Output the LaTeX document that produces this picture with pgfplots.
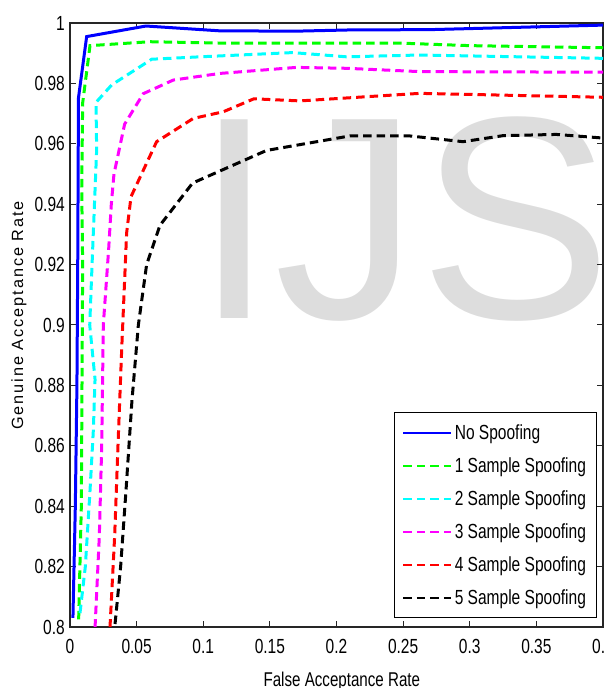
\documentclass[border=0pt]{standalone}
\usepackage{fontspec}
\setmainfont{Liberation Sans}[FakeStretch=0.76]
\newfontfamily\wmfont{Liberation Sans}
\newfontfamily\ylfont{Liberation Sans}[LetterSpace=12]
\usepackage{pgfplots}
\pgfplotsset{compat=1.18}
\definecolor{wm}{RGB}{221,221,221}
\definecolor{mblue}{RGB}{0,0,255}
\definecolor{mgreen}{RGB}{0,255,0}
\definecolor{mcyan}{RGB}{0,255,255}
\definecolor{mmag}{RGB}{255,0,255}
\definecolor{mred}{RGB}{255,0,0}

\begin{document}
\begin{tikzpicture}
\begin{axis}[
 set layers,
 scale only axis, width=533bp, height=604bp,
 xmin=0, xmax=0.4, ymin=0.8, ymax=1,
 xtick={0,0.05,0.1,0.15,0.2,0.25,0.3,0.35,0.4},
 xticklabels={0,0.05,0.1,0.15,0.2,0.25,0.3,0.35,0.4},
 ytick={0.8,0.82,0.84,0.86,0.88,0.9,0.92,0.94,0.96,0.98,1},
 yticklabels={0.8,0.82,0.84,0.86,0.88,0.9,0.92,0.94,0.96,0.98,1},
 tick align=inside, major tick length=6bp,
 axis line style={line width=1.2bp, black!85},
 every tick/.style={line width=1bp, black!85},
 ticklabel style={font=\fontsize{20.5}{24}\selectfont},
 xticklabel style={inner sep=0pt, anchor=north, yshift=-12bp},
 yticklabel style={inner sep=0pt, anchor=east, xshift=-5bp},
 xlabel={False Acceptance Rate}, ylabel={Genuine Acceptance Rate},
 every axis x label/.style={at={(axis description cs:0.51,-0.0993)}, anchor=base, inner sep=0pt, font=\fontsize{20}{24}\selectfont},
 every axis y label/.style={at={(axis description cs:-0.0957,0.5157)}, rotate=90, anchor=center, inner sep=0pt, font=\ylfont\fontsize{16.3}{19}\selectfont},
 legend style={at={(0.9887,0.0149)}, anchor=south east, draw=black, line width=1bp,
   font=\fontsize{20.5}{24}\selectfont, inner xsep=8bp, inner ysep=3.5bp, row sep=0pt,
   nodes={inner xsep=2.5bp, inner ysep=0pt, minimum height=33bp}},
 legend cell align=left,
 legend image code/.code={\draw[#1, line width=2bp] (0bp,0bp) -- (48bp,0bp);},
]
\begin{pgfonlayer}{axis background}
\node[anchor=base west, inner sep=0pt, text=wm] at (axis cs:0.0934,0.902) {\wmfont\fontsize{290}{290}\selectfont IJS};
\end{pgfonlayer}

\addplot[mblue, line width=3bp] coordinates {(0.0022,0.803) (0.004,0.84) (0.0052,0.88) (0.0058,0.92) (0.0062,0.96) (0.0063,0.975) (0.0125,0.9955) (0.057,0.9990) (0.1125,0.9974) (0.17,0.9973) (0.21,0.9977) (0.27,0.9978) (0.4,0.9993)};
\addlegendentry{No Spoofing}

\addplot[mgreen, line width=3bp, dash pattern=on 8.5bp off 5bp] coordinates {(0.0065,0.8025) (0.0085,0.84) (0.009,0.88) (0.0095,0.92) (0.0088,0.945) (0.0095,0.9735) (0.015,0.9925) (0.06,0.9938) (0.12,0.9933) (0.25,0.9933) (0.30,0.9925) (0.4,0.9918)};
\addlegendentry{1 Sample Spoofing}

\addplot[mcyan, line width=3bp, dash pattern=on 8.5bp off 5bp] coordinates {(0.0075,0.8046) (0.0115,0.82) (0.015,0.845) (0.0175,0.865) (0.0188,0.882) (0.0148,0.9) (0.017,0.925) (0.02,0.958) (0.0195,0.9737) (0.0313,0.9795) (0.0613,0.988) (0.0975,0.9888) (0.167,0.9902) (0.2075,0.9888) (0.2625,0.9894) (0.4,0.9883)};
\addlegendentry{2 Sample Spoofing}

\addplot[mmag, line width=3bp, dash pattern=on 8.5bp off 5bp] coordinates {(0.0188,0.7998) (0.022,0.83) (0.0238,0.86) (0.025,0.9) (0.029,0.925) (0.031,0.94) (0.033,0.95) (0.041,0.9665) (0.055,0.9766) (0.0775,0.9811) (0.1125,0.9833) (0.17,0.9853) (0.2075,0.985) (0.2625,0.9839) (0.4,0.9837)};
\addlegendentry{3 Sample Spoofing}

\addplot[mred, line width=3bp, dash pattern=on 8.5bp off 5bp] coordinates {(0.03,0.7998) (0.0335,0.83) (0.036,0.86) (0.0388,0.892) (0.0425,0.9305) (0.0458,0.9425) (0.065,0.9607) (0.0925,0.9684) (0.115,0.9706) (0.138,0.9749) (0.1725,0.9742) (0.2625,0.9767) (0.4,0.9754)};
\addlegendentry{4 Sample Spoofing}

\addplot[black, line width=3bp, dash pattern=on 8.5bp off 5bp] coordinates {(0.0338,0.801) (0.038,0.82) (0.042,0.845) (0.0465,0.875) (0.0513,0.9) (0.0575,0.92) (0.0675,0.933) (0.092,0.947) (0.1475,0.9578) (0.21,0.9626) (0.255,0.9626) (0.295,0.9607) (0.325,0.9627) (0.365,0.9631) (0.4,0.9619)};
\addlegendentry{5 Sample Spoofing}

\coordinate (bl) at (rel axis cs:0,0);
\coordinate (tr) at (rel axis cs:1,1);
\end{axis}
\path (bl) ++(-70bp,-61bp) coordinate (pa);
\path (tr) ++(2bp,23bp) coordinate (pb);
\pgfresetboundingbox
\useasboundingbox (pa) rectangle (pb);
\end{tikzpicture}
\end{document}
